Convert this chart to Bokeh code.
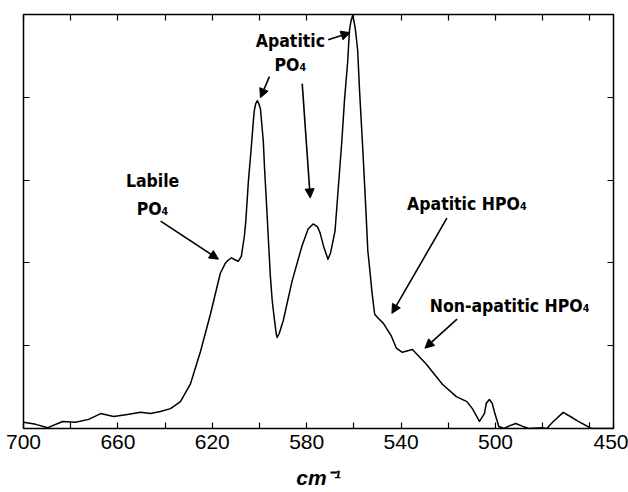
from bokeh.plotting import figure
from bokeh.models import Range1d, FixedTicker, LinearAxis, Arrow, NormalHead, Label
from bokeh.embed import file_html
from bokeh.resources import INLINE

# ---- data ----
wavenumber = [700.0, 694.8, 689.7, 683.4, 677.9, 672.4, 667.3, 661.8, 655.9, 650.4,
              646.2, 642.0, 637.7, 633.5, 629.3, 625.0, 620.8, 616.6, 614.4, 613.2,
              611.9, 610.2, 609.0, 607.7, 606.4, 605.8, 604.7, 603.6, 602.6, 602.2,
              601.6, 600.9, 600.3, 599.6, 598.4, 597.8, 597.1, 596.2, 595.4, 594.6,
              593.7, 592.9, 592.5, 591.6, 590.8, 590.0, 586.2, 582.0, 579.4, 577.3,
              575.4, 574.3, 572.9, 571.0, 569.9, 568.0, 565.1, 564.0, 562.6, 561.9,
              561.2, 560.5, 560.0, 559.3, 558.4, 557.6, 556.2, 554.9, 554.1, 553.2,
              552.4, 551.2, 550.0, 547.5, 544.1, 542.0, 539.5, 535.2, 529.3, 522.5,
              516.6, 512.1, 509.8, 506.8, 504.7, 503.9, 502.6, 501.4, 500.5, 498.6,
              496.4, 493.9, 491.4, 488.4, 485.9, 480.4, 478.3, 475.5, 471.3, 468.3,
              464.9, 459.4, 450.0]
absorbance = [1.5, 1.0, 0.2, 1.7, 1.5, 2.2, 3.6, 2.9, 3.4, 3.9,
              3.6, 4.1, 4.8, 6.5, 10.7, 18.6, 27.6, 37.5, 40.0, 40.7,
              41.2, 40.7, 40.4, 41.6, 46.5, 50.1, 59.8, 67.1, 74.3, 76.8,
              78.5, 79.2, 78.5, 77.2, 69.5, 62.2, 55.0, 45.3, 36.8, 30.8,
              26.4, 22.8, 22.0, 23.0, 24.5, 25.9, 35.6, 44.1, 48.2, 49.4,
              48.7, 47.2, 44.1, 40.9, 42.4, 47.7, 69.5, 79.2, 88.9, 96.1,
              98.5, 99.8, 98.5, 96.1, 91.3, 81.6, 67.1, 52.5, 42.9, 38.0,
              33.2, 27.6, 26.8, 25.4, 22.3, 19.4, 18.4, 19.1, 15.5, 10.7,
              7.7, 6.5, 4.8, 1.7, 3.6, 6.1, 7.0, 6.1, 4.1, 0.5,
              0.0, 0.7, 1.2, 0.5, 0.0, 0.2, 0.0, 1.7, 3.9, 2.9,
              1.7, 0.0, 0.0]

x_ticks = [700, 680, 660, 640, 620, 600, 580, 560, 540, 520, 500, 480, 460, 450]
x_tick_labels = ["700", "", "660", "", "620", "", "580", "", "540", "", "500", "", "", "450"]
y_ticks = [20, 40, 60, 80]
x_title = "cm⁻¹"

annotation_texts = ["Labile", "PO₄", "Apatitic", "PO₄", "Apatitic HPO₄", "Non-apatitic HPO₄"]
annotation_x = [645.3, 645.3, 586.9, 586.9, 512.1, 494.0]
annotation_y = [59.8, 53.0, 93.7, 87.9, 54.2, 29.5]

arrow_start_x = [641.9, 570.9, 595.8, 581.9, 520.6, 516.3]
arrow_start_y = [50.1, 93.9, 85.0, 83.3, 50.8, 26.4]
arrow_end_x = [617.4, 561.6, 599.6, 578.5, 543.9, 529.9]
arrow_end_y = [40.9, 95.6, 79.9, 55.7, 27.8, 19.4]

FONT = "Liberation Sans"
ANN_FONT = "DejaVu Sans Condensed"

p = figure(width=628, height=492, output_backend="svg", toolbar_location=None,
           x_range=Range1d(700, 450), y_range=Range1d(0, 100),
           x_axis_location=None, y_axis_location=None,
           min_border_left=23, min_border_right=15, min_border_top=14, min_border_bottom=64)
p.xgrid.visible = False
p.ygrid.visible = False
p.outline_line_color = "black"
p.outline_line_width = 1.5
p.background_fill_color = "white"
p.border_fill_color = "white"


def inward_axis(ticks, show_labels=False):
    ax = LinearAxis(ticker=FixedTicker(ticks=ticks, minor_ticks=[]))
    ax.axis_line_color = None
    ax.major_tick_in = 6
    ax.major_tick_out = 0
    ax.major_tick_line_color = "black"
    ax.major_tick_line_width = 1.2
    ax.minor_tick_line_color = None
    if not show_labels:
        ax.major_label_overrides = {t: "" for t in ticks}
        ax.major_label_standoff = 0
    return ax


bottom = inward_axis(x_ticks, show_labels=True)
bottom.major_label_overrides = {t: s for t, s in zip(x_ticks, x_tick_labels)}
bottom.major_label_text_font = FONT
bottom.major_label_text_font_size = "21px"
bottom.major_label_text_color = "black"
bottom.major_label_standoff = 6
bottom.axis_label = x_title
bottom.axis_label_text_font = FONT
bottom.axis_label_text_font_style = "bold italic"
bottom.axis_label_text_font_size = "21px"
bottom.axis_label_text_color = "black"
bottom.axis_label_standoff = 14
p.add_layout(bottom, "below")
p.add_layout(inward_axis(x_ticks[:-1]), "above")
p.add_layout(inward_axis(y_ticks), "left")
p.add_layout(inward_axis(y_ticks), "right")

p.line(wavenumber, absorbance, line_color="black", line_width=1.5, line_join="round")

for t, x, y in zip(annotation_texts, annotation_x, annotation_y):
    p.add_layout(Label(x=x, y=y, text=t, text_align="center", text_baseline="middle",
                       text_font=ANN_FONT, text_font_style="bold", text_font_size="17.5px",
                       text_color="black"))

for x0, y0, x1, y1 in zip(arrow_start_x, arrow_start_y, arrow_end_x, arrow_end_y):
    p.add_layout(Arrow(x_start=x0, y_start=y0, x_end=x1, y_end=y1,
                       line_color="black", line_width=1.6,
                       end=NormalHead(size=9, fill_color="black", line_color="black")))

open("out.html", "w").write(file_html(p, INLINE))
